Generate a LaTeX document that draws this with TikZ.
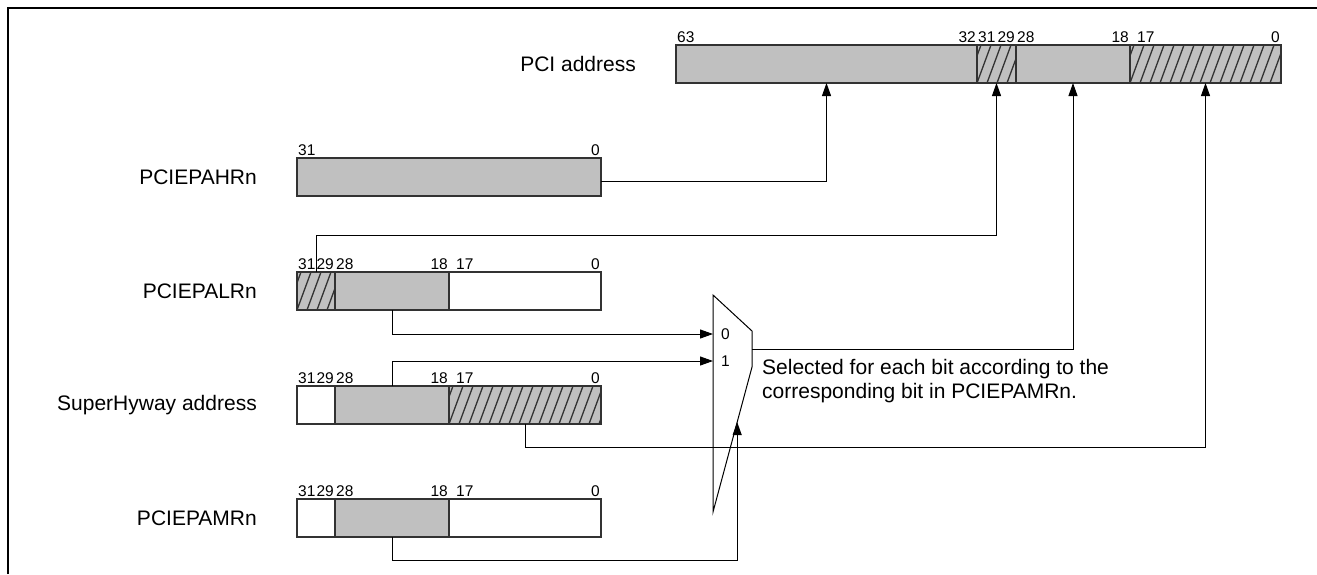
\documentclass[tikz,border=0pt]{standalone}
\usepackage{fontspec}
\setmainfont{Liberation Sans}
\usetikzlibrary{arrows.meta,positioning,calc}

\definecolor{barfill}{RGB}{192,192,192}
\definecolor{barline}{RGB}{50,50,50}

\tikzset{
  field/.style={draw=barline, line width=1.2pt, fill=barfill, minimum height=38pt, inner sep=0pt, outer sep=0pt},
  blank/.style={field, fill=white},
  hatched/.style={field, path picture={
    \foreach \k in {-20,-10,...,160}
      \draw[black!80, line width=1.3pt] ([xshift=\k pt]path picture bounding box.south west) -- ++(14pt,38pt);}},
  bitno/.style={font=\fontsize{15.5}{17}\selectfont, inner xsep=1pt, inner ysep=2pt},
  regname/.style={font=\fontsize{21}{24}\selectfont, inner sep=0pt},
  sig/.style={line width=1pt, -{Triangle[length=13pt,width=9pt]}},
  wire/.style={line width=1pt},
}

\begin{document}
\begin{tikzpicture}[x=1pt,y=-1pt]
\useasboundingbox (0,0) rectangle (1317,574);

% frame
\draw[line width=2.2pt] (8,574) -- (8,8) -- (1317,8);

% PCI address
\coordinate(P0) at (676,45);
\node[field, minimum width=301pt, below right=0cm of P0](pci63) {};
\node[hatched, minimum width=39pt, right=0cm of pci63](pci31) {};
\node[field, minimum width=114pt, right=0cm of pci31](pci28) {};
\node[hatched, minimum width=151pt, right=0cm of pci28](pci17) {};
\node[regname, left=40pt of pci63](pcilbl) {PCI address};

\node[bitno, anchor=south west] (pci-b63) at (pci63.north west) {63};
\node[bitno, anchor=south east] (pci-b32) at (pci63.north east) {32};
\node[bitno, anchor=south west] (pci-b31) at (pci31.north west) {31};
\node[bitno, anchor=south east] (pci-b29) at (pci31.north east) {29};
\node[bitno, anchor=south west] (pci-b28) at (pci28.north west) {28};
\node[bitno, anchor=south east] (pci-b18) at (pci28.north east) {18};
\node[bitno, anchor=south west, xshift=6pt] (pci-b17) at (pci17.north west) {17};
\node[bitno, anchor=south east] (pci-b0) at (pci17.north east) {0};

% PCIEPAHRn
\coordinate(H0) at (297,158);
\node[field, minimum width=304pt, below right=0cm of H0](pahr) {};
\node[regname, left=40pt of pahr](pahrlbl) {PCIEPAHRn};
\node[bitno, anchor=south west] (pahr-b31) at (pahr.north west) {31};
\node[bitno, anchor=south east] (pahr-b0) at (pahr.north east) {0};

% PCIEPALRn
\coordinate(L0) at (297,272);
\node[hatched, minimum width=38pt, below right=0cm of L0](palr31) {};
\node[field, minimum width=114pt, right=0cm of palr31](palr28) {};
\node[blank, minimum width=152pt, right=0cm of palr28](palr17) {};
\node[regname, left=40pt of palr31](palrlbl) {PCIEPALRn};

% SuperHyway address
\coordinate(S0) at (297,386);
\node[blank, minimum width=38pt, below right=0cm of S0](shw31) {};
\node[field, minimum width=114pt, right=0cm of shw31](shw28) {};
\node[hatched, minimum width=152pt, right=0cm of shw28](shw17) {};
\node[regname, left=40pt of shw31](shwlbl) {SuperHyway address};

% PCIEPAMRn
\coordinate(M0) at (297,499);
\node[blank, minimum width=38pt, below right=0cm of M0](pamr31) {};
\node[field, minimum width=114pt, right=0cm of pamr31](pamr28) {};
\node[blank, minimum width=152pt, right=0cm of pamr28](pamr17) {};
\node[regname, left=40pt of pamr31](pamrlbl) {PCIEPAMRn};

\foreach \r in {palr,shw,pamr}{
  \node[bitno, anchor=south west] (\r-b31) at (\r31.north west) {31};
  \node[bitno, anchor=south east] (\r-b29) at (\r31.north east) {29};
  \node[bitno, anchor=south west] (\r-b28) at (\r28.north west) {28};
  \node[bitno, anchor=south east] (\r-b18) at (\r28.north east) {18};
  \node[bitno, anchor=south west, xshift=6pt] (\r-b17) at (\r17.north west) {17};
  \node[bitno, anchor=south east] (\r-b0) at (\r17.north east) {0};
}

% selector
\coordinate(mtl) at (713,295);
\coordinate(mtr) at (752,331);
\coordinate(mbr) at (752,367);
\coordinate(mbl) at (713,512);
\draw[wire] (mtl) -- (mtr) -- (mbr) -- (mbl) -- cycle;
\coordinate(in0) at (713,334);
\coordinate(in1) at (713,361);
\coordinate(out) at (752,349);
\coordinate(sel) at ($(mbr)!0.38!(mbl)$);
\node[bitno, anchor=west, xshift=7pt](mux0) at (in0) {0};
\node[bitno, anchor=west, xshift=7pt](mux1) at (in1) {1};
\node[regname, align=left, anchor=north west](note) at ([xshift=10pt,yshift=-10pt]out)
  {Selected for each bit according to the\\corresponding bit in PCIEPAMRn.};

% connections
\draw[sig] ([yshift=-4pt]pahr.east) -| (pci63.south);
\draw[sig] (palr31.north) -- ++(0,-37) -| (pci31.south);
\draw[sig] (palr28.south) |- (in0);
\draw[sig] (shw28.north) |- (in1);
\draw[sig] (shw17.south) -- ++(0,23) -| (pci17.south);
\draw[sig] (pamr28.south) -- ++(0,23) -| (sel);
\draw[sig] (out) -| (pci28.south);
\end{tikzpicture}
\end{document}
